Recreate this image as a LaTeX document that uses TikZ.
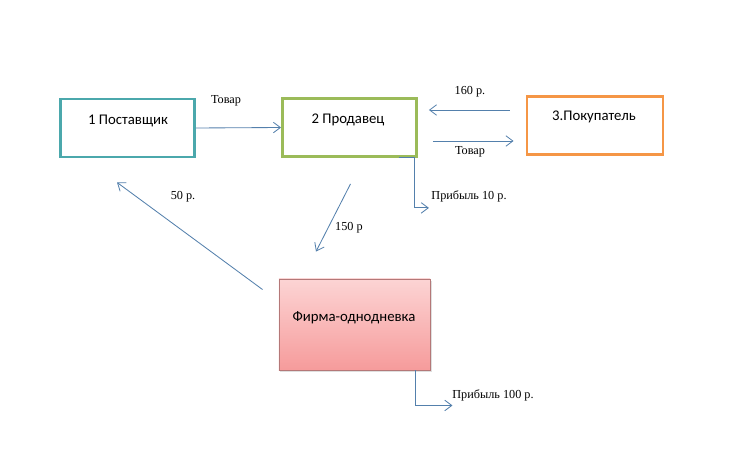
\documentclass[tikz,border=0pt]{standalone}
\usepackage{fontspec}
\setmainfont{Liberation Serif}
\newfontfamily\boxfont{Carlito}
\usetikzlibrary{arrows.meta,shadows}
\definecolor{tealline}{RGB}{75,168,172}
\definecolor{greenline}{RGB}{155,187,89}
\definecolor{orangeline}{RGB}{245,150,70}
\definecolor{arrowblue}{RGB}{84,128,172}
\definecolor{firmtop}{RGB}{252,212,212}
\definecolor{firmbottom}{RGB}{246,155,155}
\definecolor{firmline}{RGB}{180,120,120}

\begin{document}
\begin{tikzpicture}[x=0.025cm,y=-0.025cm,
		box/.style={draw, line width=2pt, minimum height=1.45cm},
		boxtext/.style={font=\boxfont\fontsize{10.5}{12}\selectfont, inner sep=0pt},
		money/.style={font=\fontsize{8.7}{10}\selectfont, inner sep=0pt},
		flow/.style={draw=arrowblue, line width=0.6pt, -{Straight Barb[length=5pt,width=7.5pt]}}]
				\useasboundingbox (0,0) rectangle (752,453);
				
				% boxes
				\node[box, draw=tealline, minimum width=3.35cm] (sup) at (127.5,128) {};
				\node[box, draw=greenline, minimum width=3.35cm] (sell) at (349.5,127.5) {};
				\node[box, draw=orangeline, minimum width=3.4cm, minimum height=1.43cm] (buy) at (595,125.5) {};
				\node[draw=firmline, line width=0.5pt, minimum width=3.78cm, minimum height=2.28cm,
					top color=firmtop, bottom color=firmbottom,
					drop shadow={opacity=0.25, shadow xshift=1pt, shadow yshift=-1.5pt}] (firm) at (354.5,324.5) {};
				
				\node[boxtext] (suptext) at (128,121) {1 Поставщик};
				\node[boxtext] (selltext) at (348,120) {2 Продавец};
				\node[boxtext] (buytext) at (594,117) {3.Покупатель};
				\node[boxtext] (firmtext) at (354,318) {Фирма-однодневка};
				
				% flows
				\draw[flow] (sup.east) -- (sell.west);
				\draw[flow] ([shift={(-16,-15.5)}]buy.west) -- ([shift={(11,-17.5)}]sell.east);
				\draw[flow] ([shift={(15,13.5)}]sell.east) -- ([shift={(-12,15.5)}]buy.west);
				\draw[flow] ([shift={(-19,0)}]sell.south east) -- ++(15,0) -- ++(0,50) -- ++(15,0);
				\draw[flow] ([shift={(1,26)}]sell.south) -- ([shift={(-38.5,-27)}]firm.north);
				\draw[flow] ([shift={(-16,11)}]firm.north west) -- ([shift={(-10.5,24)}]sup.south);
				\draw[flow] ([shift={(-15,0)}]firm.south east) -- ++(0,35) -- ++(37,0);
				
				% labels
				\node[money] (goods1) at (226,101) {Товар};
				\node[money] (pay160) at (470,92) {160 р.};
				\node[money] (goods2) at (470,152) {Товар};
				\node[money] (profit10) at (469,196) {Прибыль 10 р.};
				\node[money] (pay150) at (349,228) {150 р};
				\node[money] (pay50) at (183,197) {50 р.};
				\node[money] (profit100) at (493,395) {Прибыль 100 р.};
			\end{tikzpicture}
\end{document}
